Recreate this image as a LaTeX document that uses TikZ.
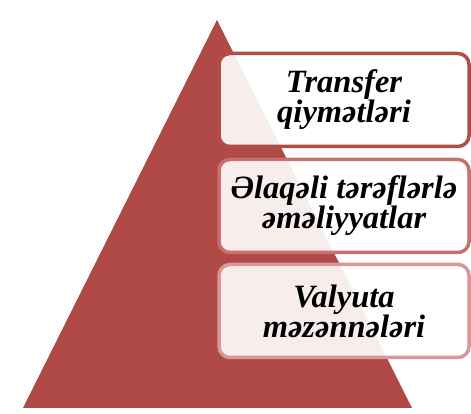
\documentclass[tikz,border=0pt]{standalone}
\usepackage{fontspec}
\setmainfont{Liberation Serif}
\definecolor{pyrred}{RGB}{176,74,71}
\definecolor{edgeone}{RGB}{178,76,73}
\definecolor{edgetwo}{RGB}{200,112,110}
\definecolor{edgethree}{RGB}{216,152,150}
\tikzset{
	levelbox/.style={draw, line width=3.5pt, rounded corners=11pt, fill=white, fill opacity=0.9, text opacity=1,
		minimum width=250pt, minimum height=93pt, align=center, inner sep=0pt,
		font=\fontsize{32.5}{30}\selectfont\bfseries\itshape}
}
\begin{document}
\begin{tikzpicture}[x=1pt,y=1pt]
	\useasboundingbox (0,0) rectangle (471,414);
	% pyramid with shadow and white rim
	\fill[black!30, opacity=0.5] (19,3) -- (214,393) -- (409,3) -- cycle;
	\draw[white, line width=6pt, line join=miter, fill=pyrred] (23,6) -- (217,394) -- (412,6) -- cycle;
	\fill[pyrred] (23,6) -- (217,394) -- (412,6) -- cycle;
	
	\node[levelbox, draw=edgeone] (transfer) at (344,314) {Transfer\\qiymətləri};
	\node[levelbox, draw=edgetwo] (elaqeli) at (344,208) {Əlaqəli tərəflərlə\\əməliyyatlar};
	\node[levelbox, draw=edgethree] (valyuta) at (344,103) {Valyuta\\məzənnələri};
\end{tikzpicture}
\end{document}
